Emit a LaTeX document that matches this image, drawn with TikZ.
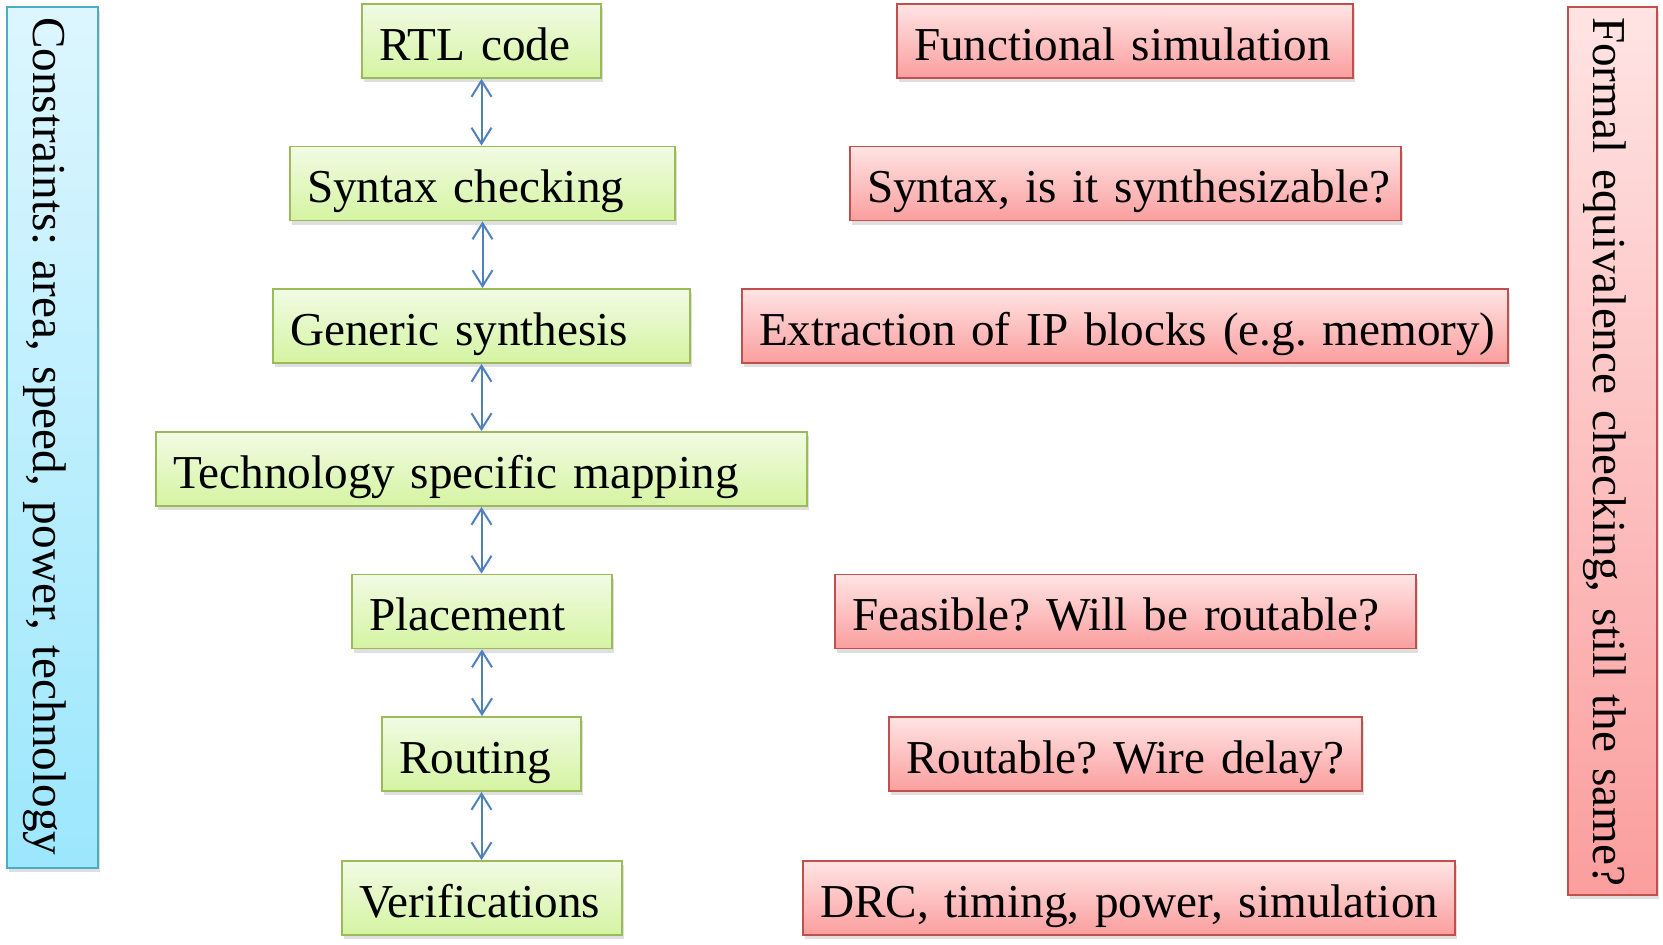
\documentclass[tikz,border=0pt]{standalone}
\usepackage{fontspec}
\setmainfont{Liberation Serif}
\usetikzlibrary{arrows.meta,shadows}
\frenchspacing
\definecolor{greenline}{HTML}{9BBB59}
\definecolor{greentop}{HTML}{F1FBE4}
\definecolor{greenbot}{HTML}{D5F4A2}
\definecolor{redline}{HTML}{C0504D}
\definecolor{redtop}{HTML}{FFE4E4}
\definecolor{redbot}{HTML}{FB9E9E}
\definecolor{blueline}{HTML}{4BACC6}
\definecolor{bluetop}{HTML}{DDF6FE}
\definecolor{bluebot}{HTML}{9CE7FD}
\definecolor{arrowblue}{HTML}{4F81BD}
\tikzset{
  boxtext/.style={inner xsep=8.5pt, inner ysep=3pt, align=left,
    text height=22pt, text depth=3pt,
    font=\fontsize{23.6}{28}\selectfont,
    execute at begin node={\hbox\bgroup}, execute at end node={\egroup}},
  box/.style={boxtext, draw, line width=0.9pt, minimum height=37pt,
    drop shadow={shadow xshift=1.2pt, shadow yshift=-2pt, opacity=0.25}},
  flowbox/.style={box, draw=greenline, top color=greentop, bottom color=greenbot},
  notebox/.style={box, draw=redline, top color=redtop, bottom color=redbot},
  sidebox/.style={draw, line width=0.9pt,
    drop shadow={shadow xshift=1.2pt, shadow yshift=-2pt, opacity=0.25}},
  sidetext/.style={boxtext, rotate=-90, inner xsep=5pt},
  arr/.style={draw=arrowblue, line width=1pt,
    {Straight Barb[length=8pt,width=10pt]}-{Straight Barb[length=8pt,width=10pt]}}
}
\begin{document}
\begin{tikzpicture}[x=0.5pt,y=-0.5pt]
    \useasboundingbox (0,0) rectangle (1663,944);
    % design flow
    \node[flowbox, text width=102.5pt] (rtl) at (481.5,41) {RTL code};
    \node[flowbox, text width=175.5pt] (syn) at (482.5,183.5) {Syntax checking};
    \node[flowbox, text width=191.5pt] (gen) at (481.5,326) {Generic synthesis};
    \node[flowbox, text width=308.5pt] (tech) at (481.5,469) {Technology specific mapping};
    \node[flowbox, text width=113pt] (place) at (482,611.5) {Placement};
    \node[flowbox, text width=82.5pt] (route) at (481.5,754) {Routing};
    \node[flowbox, text width=123pt] (verif) at (482,898) {Verifications};
    % checks
    \node[notebox, text width=211pt] (func) at (1125,41) {Functional simulation};
    \node[notebox, text width=258.5pt] (synq) at (1125.5,183.5) {Syntax, is it synthesizable?};
    \node[notebox, text width=366pt] (extr) at (1125,326) {Extraction of IP blocks (e.g. memory)};
    \node[notebox, text width=273.5pt] (feas) at (1125.5,611.5) {Feasible? Will be routable?};
    \node[notebox, text width=219.5pt] (rcheck) at (1125.5,754) {Routable? Wire delay?};
    \node[notebox, text width=309pt] (drc) at (1129,898) {DRC, timing, power, simulation};
    % side bars
    \node[sidebox, draw=blueline, top color=bluetop, bottom color=bluebot,
      minimum width=45.5pt, minimum height=430.5pt] (cons) at (52.5,437.5) {};
    \node[sidetext, text width=420.5pt] (constext) at (cons.center)
      {Constraints: area, speed, power, technology};
    \node[sidebox, draw=redline, top color=redtop, bottom color=redbot,
      minimum width=44.5pt, minimum height=444pt] (formal) at (1612.5,451) {};
    \node[sidetext, text width=434pt] (formaltext) at (formal.center)
      {Formal equivalence checking, still the same?};
    % arrows
    \draw[arr] (rtl.south) -- (rtl.south |- syn.north);
    \draw[arr] (syn.south) -- (syn.south |- gen.north);
    \draw[arr] (gen.south) -- (gen.south |- tech.north);
    \draw[arr] (tech.south) -- (tech.south |- place.north);
    \draw[arr] (place.south) -- (place.south |- route.north);
    \draw[arr] (route.south) -- (route.south |- verif.north);
\end{tikzpicture}
\end{document}
